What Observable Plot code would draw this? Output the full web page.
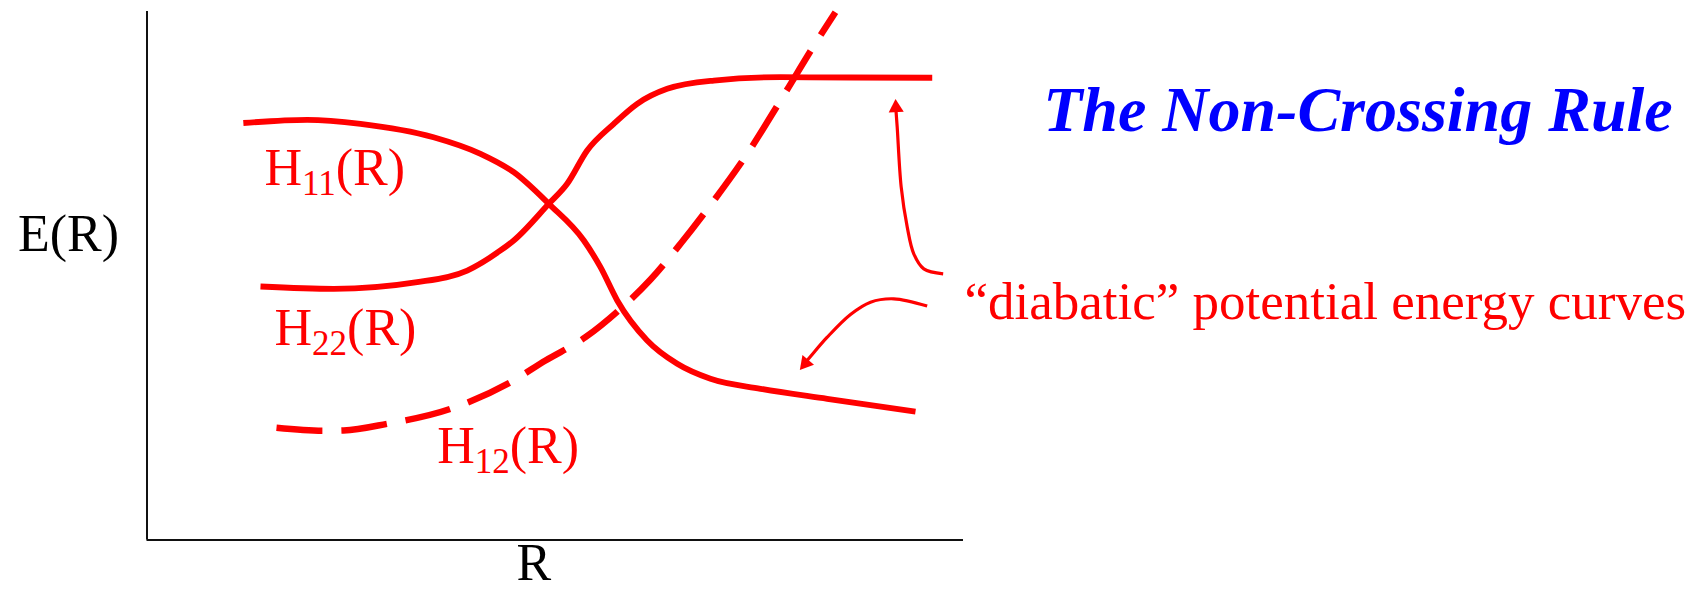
<!DOCTYPE html>
<html>
<head>
<meta charset="utf-8">
<script src="https://cdn.jsdelivr.net/npm/d3@7"></script>
<script src="https://cdn.jsdelivr.net/npm/@observablehq/plot@0.6"></script>
<style>
  html, body { margin: 0; padding: 0; background: #fff; }
  #chart { width: 1702px; height: 590px; }
</style>
</head>
<body>
<div id="chart"></div>
<script>
// ---- data (R, E in arbitrary units; axes span 0..10) ----
const h11R = [1.18, 1.962, 2.615, 3.509, 4.085, 4.492, 4.921, 5.350, 5.554, 5.759, 6.126, 6.494, 6.901, 7.514, 8.331, 9.412];
const h11E = [7.89, 7.951, 7.875, 7.621, 7.307, 6.959, 6.361, 5.667, 5.162, 4.532, 3.775, 3.334, 3.050, 2.861, 2.672, 2.431];

const h22R = [1.390, 2.288, 3.309, 3.922, 4.329, 4.492, 4.921, 5.146, 5.391, 5.717, 6.004, 6.371, 6.942, 7.759, 8.616, 9.617];
const h22E = [4.797, 4.753, 4.878, 5.099, 5.478, 5.667, 6.361, 6.740, 7.370, 7.875, 8.254, 8.537, 8.694, 8.757, 8.751, 8.746];

const h12R = [1.586, 2.162, 2.407, 2.942, 3.717, 4.452, 4.881, 5.370, 5.799, 6.167, 6.534, 6.881, 7.351, 7.759, 8.187, 8.432];
const h12E = [2.123, 2.066, 2.072, 2.199, 2.482, 2.986, 3.396, 3.837, 4.375, 4.929, 5.605, 6.297, 7.307, 8.316, 9.400, 9.987];

// annotation arrows
const arrowUpR = [9.751, 9.514, 9.391, 9.311, 9.237, 9.188, 9.173];
const arrowUpE = [5.037, 5.131, 5.415, 5.919, 6.676, 7.811, 8.127];
const arrowDnR = [9.555, 9.146, 8.861, 8.616, 8.331, 8.126, 8.07];
const arrowDnE = [4.428, 4.564, 4.500, 4.267, 3.837, 3.472, 3.37];
const headR = [9.173, 8.064];
const headE = [8.180, 3.345];
const headAngle = [-3, 220];

// labels
const labelText = ["H11(R)", "H22(R)", "H12(R)"];
const labelR = [1.439, 1.562, 3.554];
const labelE = [6.721, 3.693, 1.461];

const titleText = "The Non-Crossing Rule";
const titleR = 14.831, titleE = 7.748;
const captionText = "\u201Cdiabatic\u201D potential energy curves";
const captionR = 10.012, captionE = 4.191;
const xLabel = "R";
const yLabel = "E(R)";

// ---- build tables ----
const toPts = (xs, ys) => xs.map((x, i) => ({R: x, E: ys[i]}));
const h11 = toPts(h11R, h11E);
const h22 = toPts(h22R, h22E);
const h12 = toPts(h12R, h12E);
const arrowUp = toPts(arrowUpR, arrowUpE);
const arrowDn = toPts(arrowDnR, arrowDnE);
const heads = headR.map((r, i) => ({R: r, E: headE[i], angle: headAngle[i]}));
const labels = labelText.map((t, i) => ({text: t, R: labelR[i], E: labelE[i]}));

const RED = "#ff0000";
const SERIF = "'Liberation Serif', 'Times New Roman', Times, serif";

const plot = Plot.plot({
  width: 1702,
  height: 590,
  marginLeft: 146.5,
  marginRight: 739,
  marginTop: 11,
  marginBottom: 50.5,
  x: {domain: [0, 10], axis: null},
  y: {domain: [0, 10], axis: null},
  style: {background: "white", fontFamily: SERIF, overflow: "visible"},
  marks: [
    Plot.ruleX([0], {y1: 0, y2: 10, stroke: "#111", strokeWidth: 2}),
    Plot.ruleY([0], {x1: 0, x2: 10, stroke: "#111", strokeWidth: 2}),
    Plot.line(h11, {x: "R", y: "E", curve: "monotone-x", stroke: RED, strokeWidth: 5.8, strokeLinecap: "butt"}),
    Plot.line(h22, {x: "R", y: "E", curve: "monotone-x", stroke: RED, strokeWidth: 5.8, strokeLinecap: "butt"}),
    Plot.line(h12, {x: "R", y: "E", curve: "monotone-x", stroke: RED, strokeWidth: 6.5, strokeLinecap: "butt", strokeDasharray: "46,19"}),
    Plot.line(arrowUp, {x: "R", y: "E", curve: "catmull-rom", stroke: RED, strokeWidth: 3.2, strokeLinecap: "butt"}),
    Plot.line(arrowDn, {x: "R", y: "E", curve: "catmull-rom", stroke: RED, strokeWidth: 3.2, strokeLinecap: "butt"}),
    Plot.dot(heads, {x: "R", y: "E", symbol: "triangle", r: 5.6, fill: RED, stroke: "none", rotate: "angle"}),
    Plot.text(labels, {x: "R", y: "E", text: "text", fill: RED, fontSize: 52, textAnchor: "start", lineAnchor: "bottom"}),
    Plot.text([captionText], {x: captionR, y: captionE, text: d => d, fill: RED, fontSize: 53, textAnchor: "start", lineAnchor: "bottom"}),
    Plot.text([titleText], {x: titleR, y: titleE, text: d => d, fill: "#0000ff", fontSize: 64, fontWeight: "bold", fontStyle: "italic", textAnchor: "middle", lineAnchor: "bottom"}),
    Plot.text([yLabel], {frameAnchor: "left", text: d => d, fill: "#000", fontSize: 52, textAnchor: "end", lineAnchor: "bottom", dx: -28, dy: -24.5}),
    Plot.text([xLabel], {frameAnchor: "bottom", text: d => d, fill: "#000", fontSize: 52, textAnchor: "middle", lineAnchor: "bottom", dx: -21.5, dy: 39.5})
  ]
});

// subscripts for H11, H22, H12
d3.select(plot).selectAll("text").each(function () {
  const m = /^H(\d\d)\(R\)$/.exec(this.textContent);
  if (!m) return;
  const sel = d3.select(this);
  sel.text(null);
  sel.append("tspan").text("H");
  sel.append("tspan").attr("font-size", 35).attr("dy", 10.5).text(m[1]);
  sel.append("tspan").attr("dy", -10.5).text("(R)");
});

document.getElementById("chart").appendChild(plot);
</script>
</body>
</html>
